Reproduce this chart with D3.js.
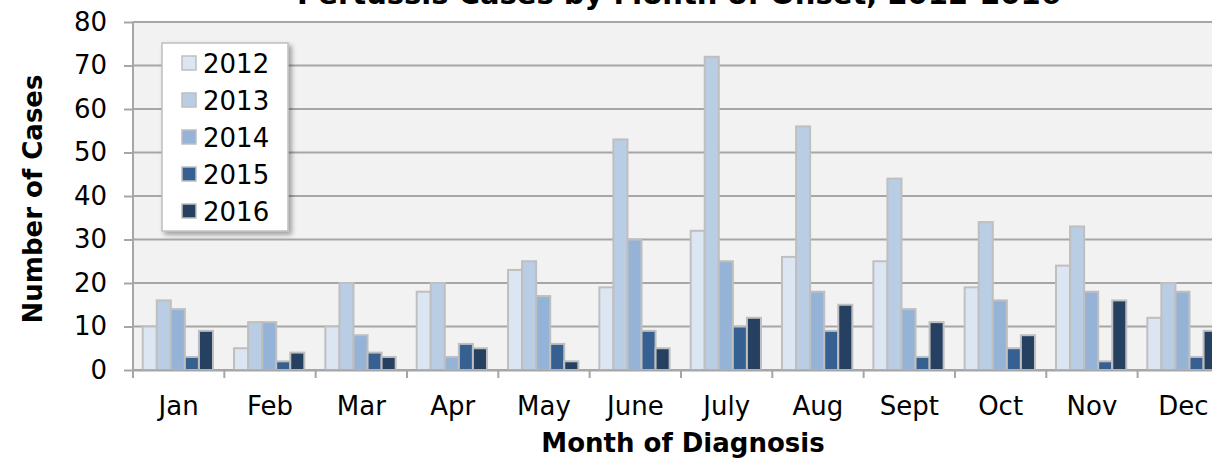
<!DOCTYPE html>
<html>
<head>
<meta charset="utf-8">
<script src="https://cdn.jsdelivr.net/npm/d3@7"></script>
<style>
  body { margin: 0; background: #fff; }
  text { font-family: Verdana, "DejaVu Sans", sans-serif; fill: #000; }
</style>
</head>
<body>
<div id="chart"></div>
<script>
// data
const months = ["Jan", "Feb", "Mar", "Apr", "May", "June", "July", "Aug", "Sept", "Oct", "Nov", "Dec"]
const years = ["2012", "2013", "2014", "2015", "2016"]
const cases2012 = [10, 5, 10, 18, 23, 19, 32, 26, 25, 19, 24, 12]
const cases2013 = [16, 11, 20, 20, 25, 53, 72, 56, 44, 34, 33, 20]
const cases2014 = [14, 11, 8, 3, 17, 30, 25, 18, 14, 16, 18, 18]
const cases2015 = [3, 2, 4, 6, 6, 9, 10, 9, 3, 5, 2, 3]
const cases2016 = [9, 4, 3, 5, 2, 5, 12, 15, 11, 8, 16, 9]
const yTicks = [0, 10, 20, 30, 40, 50, 60, 70, 80]
const colors = ["#dce6f2", "#b9cde5", "#95b3d7", "#376092", "#254061"]

const series = [cases2012, cases2013, cases2014, cases2015, cases2016]
const rows = []
months.forEach((m, i) => {
    years.forEach((y, j) => rows.push({ month: m, year: y, value: series[j][i] }))
})

const width = 1212
const height = 460
const plotLeft = 133, plotTop = 22, plotBottom = 370
const plotRight = plotLeft + 12 * 91.33

const svg = d3.select("#chart").append("svg")
    .attr("width", width)
    .attr("height", height)

// drop shadow for the legend
const defs = svg.append("defs")
const f = defs.append("filter").attr("id", "shadow").attr("x", "-20%").attr("y", "-20%").attr("width", "150%").attr("height", "150%")
f.append("feDropShadow").attr("dx", 3).attr("dy", 3).attr("stdDeviation", 2.5).attr("flood-color", "#000").attr("flood-opacity", 0.35)

// scales
const xScale = d3.scaleBand().domain(months).range([plotLeft, plotRight])
const inner = d3.scaleBand().domain(years).range([9.7, 80])
const yScale = d3.scaleLinear().domain([0, 80]).range([plotBottom, plotTop])
const colorScale = d3.scaleOrdinal().domain(years).range(colors)

// plot background
svg.append("rect")
    .attr("x", plotLeft).attr("y", plotTop)
    .attr("width", plotRight - plotLeft).attr("height", plotBottom - plotTop)
    .attr("fill", "#f2f2f2")

// gridlines + y axis
const yAxis = svg.append("g")
    .attr("transform", `translate(${plotLeft},0)`)
    .call(d3.axisLeft(yScale).tickValues(yTicks).tickSize(9).tickPadding(17)
        .tickFormat(d3.format("d")))
yAxis.select(".domain").remove()
yAxis.selectAll("line").attr("stroke", "#a6a6a6").attr("stroke-width", 2)
yAxis.selectAll("text").style("font-size", "26px")

svg.append("g").selectAll("line")
    .data(yTicks)
    .join("line")
    .attr("x1", plotLeft).attr("x2", plotRight)
    .attr("y1", d => yScale(d)).attr("y2", d => yScale(d))
    .attr("stroke", "#a6a6a6").attr("stroke-width", 2)

// bars
svg.append("g").selectAll("rect")
    .data(rows)
    .join("rect")
    .attr("x", d => xScale(d.month) + inner(d.year))
    .attr("y", d => yScale(d.value))
    .attr("width", inner.bandwidth())
    .attr("height", d => yScale(0) - yScale(d.value))
    .attr("fill", d => colorScale(d.year))
    .attr("stroke", "#bfbfbf")
    .attr("stroke-width", 2)

// x axis
const xAxis = svg.append("g")
    .attr("transform", `translate(0,${plotBottom})`)
    .call(d3.axisBottom(xScale).tickSize(0).tickPadding(27))
xAxis.select(".domain").attr("stroke", "#a6a6a6").attr("stroke-width", 2)
xAxis.selectAll("text").style("font-size", "26px")

svg.append("g").selectAll("line")
    .data(months.concat(["end"]))
    .join("line")
    .attr("x1", (d, i) => plotLeft + i * xScale.step())
    .attr("x2", (d, i) => plotLeft + i * xScale.step())
    .attr("y1", plotBottom).attr("y2", plotBottom + 8)
    .attr("stroke", "#a6a6a6").attr("stroke-width", 2)

svg.append("line")
    .attr("x1", plotLeft).attr("x2", plotLeft)
    .attr("y1", plotTop).attr("y2", plotBottom)
    .attr("stroke", "#a6a6a6").attr("stroke-width", 2)

// titles
svg.append("text")
    .attr("x", 679).attr("y", 4)
    .attr("text-anchor", "middle")
    .style("font-size", "29px").style("font-weight", "bold")
    .text("Pertussis Cases by Month of Onset, 2012-2016")

svg.append("text")
    .attr("x", 683).attr("y", 452)
    .attr("text-anchor", "middle")
    .style("font-size", "26px").style("font-weight", "bold")
    .text("Month of Diagnosis")

svg.append("text")
    .attr("transform", `translate(42,199) rotate(-90)`)
    .attr("text-anchor", "middle")
    .style("font-size", "26px").style("font-weight", "bold")
    .text("Number of Cases")

// legend
const legend = svg.append("g")
legend.append("rect")
    .attr("x", 162).attr("y", 43).attr("width", 126).attr("height", 188)
    .attr("fill", "#fff").attr("stroke", "#bfbfbf").attr("stroke-width", 1.5)
    .attr("filter", "url(#shadow)")

const item = legend.selectAll("g.item")
    .data(years)
    .join("g")
    .attr("class", "item")
    .attr("transform", (d, i) => `translate(182,${63 + i * 37})`)
item.append("rect")
    .attr("x", 0).attr("y", -7).attr("width", 14).attr("height", 14)
    .attr("fill", d => colorScale(d))
    .attr("stroke", "#bfbfbf").attr("stroke-width", 1.5)
item.append("text")
    .attr("x", 21).attr("y", 9.5)
    .style("font-size", "26px")
    .text(d => d)
</script>
</body>
</html>
